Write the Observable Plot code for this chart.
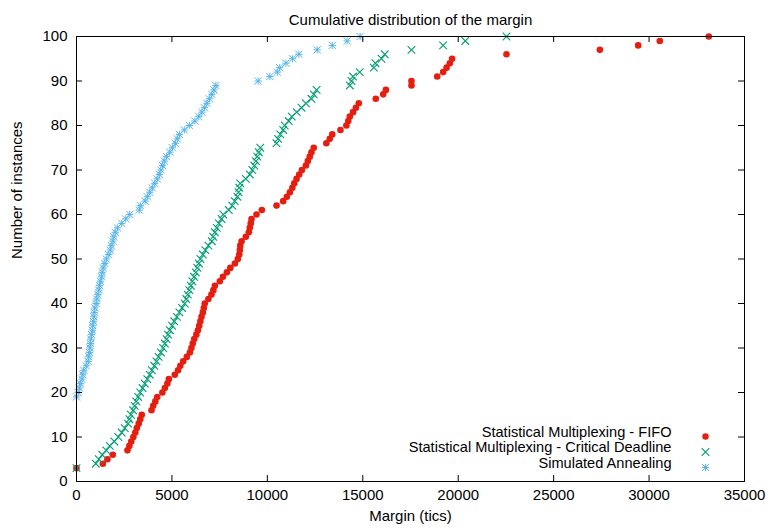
<!DOCTYPE html>
<html><head><meta charset="utf-8">
<script src="https://cdn.jsdelivr.net/npm/d3@7"></script>
<script src="https://cdn.jsdelivr.net/npm/@observablehq/plot@0.6"></script>
<style>
body{margin:0;background:#fff;}
#chart svg{display:block;}
</style></head><body><div id="chart"></div>
<script>
const title = "Cumulative distribution of the margin";
const xLabel = "Margin (tics)";
const yLabel = "Number of instances";
const seriesNames = ["Statistical Multiplexing - FIFO", "Statistical Multiplexing - Critical Deadline", "Simulated Annealing"];
const seriesColors = ["#e51e10", "#009e73", "#56b4e9"];
const xTicks = [0, 5000, 10000, 15000, 20000, 25000, 30000, 35000];
const yTicks = [0, 10, 20, 30, 40, 50, 60, 70, 80, 90, 100];

// [number of instances, margin]
const fifoPoints = [[3,0],[4,1380],[5,1620],[6,1900],[7,2670],[8,2770],[9,2870],[10,2980],[11,3080],[12,3160],[13,3260],[14,3340],[15,3420],[16,3930],[17,4020],[18,4130],[19,4230],[20,4500],[21,4630],[22,4760],[23,4840],[24,5150],[25,5320],[26,5440],[27,5590],[28,5780],[29,5940],[30,6020],[31,6090],[32,6170],[33,6280],[34,6360],[35,6430],[36,6490],[37,6550],[38,6620],[39,6670],[40,6720],[41,6910],[42,7070],[43,7170],[44,7250],[45,7510],[46,7670],[47,7880],[48,8060],[49,8300],[50,8450],[51,8530],[52,8560],[53,8580],[54,8650],[55,8870],[56,9030],[57,9080],[58,9130],[59,9170],[60,9430],[61,9710],[62,10480],[63,10830],[64,11020],[65,11180],[66,11310],[67,11410],[68,11530],[69,11670],[70,11810],[71,12020],[72,12120],[73,12220],[74,12310],[75,12430],[76,13090],[77,13270],[78,13400],[79,13830],[80,14140],[81,14240],[82,14320],[83,14490],[84,14640],[85,14790],[86,15680],[87,16070],[88,16210],[89,17550],[90,17550],[91,18900],[92,19210],[93,19390],[94,19560],[95,19680],[96,22530],[97,27420],[98,29430],[99,30560],[100,33130]];

const deadlinePoints = [[3,0],[4,1010],[5,1170],[6,1350],[7,1560],[8,1745],[9,1980],[10,2190],[11,2370],[12,2530],[13,2700],[14,2770],[15,2850],[16,2970],[17,3050],[18,3130],[19,3230],[20,3340],[21,3460],[22,3580],[23,3710],[24,3840],[25,3950],[26,4080],[27,4190],[28,4300],[29,4420],[30,4540],[31,4630],[32,4720],[33,4800],[34,4890],[35,5010],[36,5120],[37,5260],[38,5390],[39,5530],[40,5670],[41,5750],[42,5830],[43,5910],[44,5990],[45,6070],[46,6160],[47,6250],[48,6330],[49,6410],[50,6490],[51,6620],[52,6750],[53,6910],[54,7090],[55,7160],[56,7250],[57,7350],[58,7460],[59,7600],[60,7690],[61,7980],[62,8160],[63,8290],[64,8430],[65,8490],[66,8530],[67,8580],[68,8870],[69,9080],[70,9210],[71,9320],[72,9400],[73,9470],[74,9550],[75,9630],[76,10480],[77,10560],[78,10680],[79,10830],[80,10910],[81,11120],[82,11280],[83,11540],[84,11790],[85,12020],[86,12310],[87,12430],[88,12580],[89,14320],[90,14410],[91,14490],[92,14840],[93,15580],[94,15660],[95,15980],[96,16150],[97,17550],[98,19210],[99,20370],[100,22530]];

const annealingPoints = [[19,0],[20,85],[21,150],[22,200],[23,280],[24,330],[25,380],[26,510],[27,610],[28,640],[29,680],[30,700],[31,730],[32,750],[33,790],[34,830],[35,850],[36,880],[37,910],[38,930],[39,960],[40,1030],[41,1060],[42,1120],[43,1170],[44,1210],[45,1250],[46,1310],[47,1340],[48,1400],[49,1480],[50,1560],[51,1690],[52,1770],[53,1820],[54,1900],[55,1950],[56,2030],[57,2140],[58,2370],[59,2580],[60,2790],[61,3290],[62,3340],[63,3600],[64,3710],[65,3840],[66,3970],[67,4100],[68,4230],[69,4340],[70,4420],[71,4510],[72,4600],[73,4720],[74,4890],[75,5020],[76,5180],[77,5280],[78,5390],[79,5650],[80,5910],[81,6200],[82,6410],[83,6570],[84,6700],[85,6830],[86,6960],[87,7090],[88,7200],[89,7300],[90,9520],[91,10130],[92,10520],[93,10650],[94,10970],[95,11320],[96,11650],[97,12610],[98,13400],[99,14180],[100,14860]];

const FONT = "'Liberation Sans', Arial, Helvetica, sans-serif";
const FS = 15;
const LFS = 14.6;

const crossSymbol = {draw(ctx, size) {
  const r = Math.sqrt(size / Math.PI);
  ctx.moveTo(-r, -r); ctx.lineTo(r, r);
  ctx.moveTo(-r, r); ctx.lineTo(r, -r);
}};
const asteriskSymbol = {draw(ctx, size) {
  const r = Math.sqrt(size / Math.PI);
  ctx.moveTo(-r, -r); ctx.lineTo(r, r);
  ctx.moveTo(-r, r); ctx.lineTo(r, -r);
  ctx.moveTo(-r, 0); ctx.lineTo(r, 0);
  ctx.moveTo(0, -r); ctx.lineTo(0, r);
}};

const W = 768, H = 530, ML = 76, MR = 24, MT = 36, MB = 49;
const FW = W - ML - MR, FH = H - MT - MB, TL = 6;

const legendRows = [-45, -29.5, -14];
const legendMarks = [];
seriesNames.forEach((name, i) => {
  legendMarks.push(Plot.text([name], {frameAnchor: "bottom-right", text: d => d, dx: -73, dy: legendRows[i], textAnchor: "end", fontSize: LFS, fill: "black"}));
});
legendMarks.push(Plot.dot([0], {frameAnchor: "bottom-right", dx: -39, dy: legendRows[0], r: 3.2, fill: seriesColors[0], stroke: "none"}));
legendMarks.push(Plot.dot([0], {frameAnchor: "bottom-right", dx: -39, dy: legendRows[1], r: 3.8, symbol: crossSymbol, fill: "none", stroke: seriesColors[1], strokeWidth: 1.1}));
legendMarks.push(Plot.dot([0], {frameAnchor: "bottom-right", dx: -39, dy: legendRows[2], r: 3.6, symbol: asteriskSymbol, fill: "none", stroke: seriesColors[2], strokeWidth: 1}));

const chart = Plot.plot({
  width: W, height: H,
  marginLeft: ML, marginRight: MR, marginTop: MT, marginBottom: MB,
  style: {fontFamily: FONT, fontSize: FS + "px", color: "black", background: "white"},
  x: {domain: [0, 35000]},
  y: {domain: [0, 100]},
  marks: [
    Plot.dot(fifoPoints, {x: d => d[1], y: d => d[0], r: 3.3, fill: seriesColors[0], stroke: "none"}),
    Plot.dot(deadlinePoints, {x: d => d[1], y: d => d[0], r: 3.8, symbol: crossSymbol, fill: "none", stroke: seriesColors[1], strokeWidth: 1.1}),
    Plot.dot(annealingPoints, {x: d => d[1], y: d => d[0], r: 3.6, symbol: asteriskSymbol, fill: "none", stroke: seriesColors[2], strokeWidth: 1}),
    Plot.frame({stroke: "black", strokeWidth: 1}),
    Plot.tickX(xTicks, {x: d => d, insetTop: FH - TL, stroke: "black"}),
    Plot.tickX(xTicks, {x: d => d, insetBottom: FH - TL, stroke: "black"}),
    Plot.tickY(yTicks, {y: d => d, insetRight: FW - TL, stroke: "black"}),
    Plot.tickY(yTicks, {y: d => d, insetLeft: FW - TL, stroke: "black"}),
    Plot.axisX({ticks: xTicks, tickSize: 0, tickPadding: 8, tickFormat: d => String(d), label: null, fontSize: FS}),
    Plot.axisY({ticks: yTicks, tickSize: 0, tickPadding: 9, tickFormat: d => String(d), label: null, fontSize: FS}),
    Plot.text([xLabel], {frameAnchor: "bottom", text: d => d, dy: 39, fontSize: FS, fill: "black"}),
    Plot.text([yLabel], {frameAnchor: "left", text: d => d, dx: -59, rotate: -90, fontSize: FS, fill: "black"}),
    Plot.text([title], {frameAnchor: "top", text: d => d, dy: -22, fontSize: FS, fill: "black"}),
    ...legendMarks
  ]
});
document.getElementById("chart").appendChild(chart);
</script>
</body></html>
